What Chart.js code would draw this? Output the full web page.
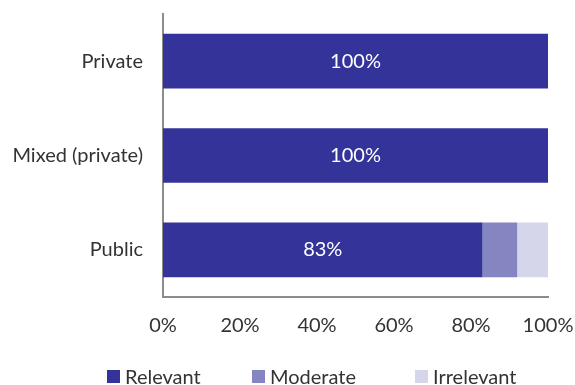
<!DOCTYPE html>
<html>
<head>
<meta charset="utf-8">
<script src="https://cdn.jsdelivr.net/npm/chart.js@4/dist/chart.umd.min.js"></script>
<style>
  html, body { margin: 0; padding: 0; background: #fff; }
  #wrap { position: relative; width: 575px; height: 385px; }
  #legend { position: absolute; left: 107px; top: 364px; display: flex; font: 400 20px Lato, "Noto Sans", sans-serif; color: #333; }
  #legend .item { display: flex; align-items: center; }
  #legend .box { width: 13px; height: 13px; margin-right: 5px; }
</style>
</head>
<body>
<div id="wrap">
  <canvas id="chart" width="575" height="385"></canvas>
  <div id="legend"></div>
</div>
<script>
// categories and shares (percent)
const categories = ['Private', 'Mixed (private)', 'Public']
const relevant = [100, 100, 83]
const moderate = [0, 0, 9]
const irrelevant = [0, 0, 8]
const xTicks = [0, 20, 40, 60, 80, 100]

const fontFamily = 'Lato, "Noto Sans", sans-serif'

// white value labels inside the first series
const valueLabels = {
    id: 'valueLabels',
    afterDatasetsDraw(chart) {
        let ctx = chart.ctx
        let meta = chart.getDatasetMeta(0)
        ctx.save()
        ctx.fillStyle = '#ffffff'
        ctx.font = '400 20px ' + fontFamily
        ctx.textAlign = 'center'
        ctx.textBaseline = 'middle'
        meta.data.forEach((bar, i) => {
            let cx = (bar.x + bar.base) / 2
            ctx.fillText(relevant[i] + '%', cx, bar.y)
        })
        ctx.restore()
    }
}

let chart = new Chart(document.getElementById('chart'), {
    type: 'bar',
    data: {
        labels: categories,
        datasets: [
            { label: 'Relevant', data: relevant, backgroundColor: '#333399', borderWidth: 0 },
            { label: 'Moderate', data: moderate, backgroundColor: '#8585c2', borderWidth: 0 },
            { label: 'Irrelevant', data: irrelevant, backgroundColor: '#d6d6eb', borderWidth: 0 }
        ]
    },
    options: {
        indexAxis: 'y',
        responsive: false,
        animation: false,
        layout: { padding: { top: 14, right: 27, bottom: 30, left: 0 } },
        datasets: { bar: { categoryPercentage: 1, barPercentage: 0.58 } },
        scales: {
            x: {
                stacked: true,
                min: 0,
                max: 100,
                afterBuildTicks(axis) { axis.ticks = xTicks.map(v => ({ value: v })) },
                afterFit(axis) { axis.paddingLeft = 0; axis.paddingRight = 0 },
                grid: { display: false, drawTicks: false },
                border: { display: true, color: '#8c8c8c', width: 2 },
                ticks: {
                    padding: 17,
                    color: '#333333',
                    font: { family: fontFamily, size: 20, weight: 400 },
                    callback: v => v + '%'
                }
            },
            y: {
                stacked: true,
                afterFit(axis) { axis.width = 163; axis.paddingTop = 0; axis.paddingBottom = 0 },
                grid: { display: false, drawTicks: false },
                border: { display: true, color: '#8c8c8c', width: 2 },
                ticks: {
                    padding: 20,
                    color: '#333333',
                    font: { family: fontFamily, size: 20, weight: 400 }
                }
            }
        },
        plugins: {
            legend: { display: false },
            tooltip: { enabled: false }
        }
    },
    plugins: [valueLabels]
})

//legend built from the chart's datasets
let legendBox = document.getElementById('legend')
let itemWidths = [145, 163, null]
chart.data.datasets.forEach((ds, i) => {
    let item = document.createElement('div')
    item.className = 'item'
    if (itemWidths[i]) item.style.width = itemWidths[i] + 'px'
    item.innerHTML = `<span class="box" style="background:${ds.backgroundColor}"></span><span>${ds.label}</span>`
    legendBox.append(item)
})
</script>
</body>
</html>
